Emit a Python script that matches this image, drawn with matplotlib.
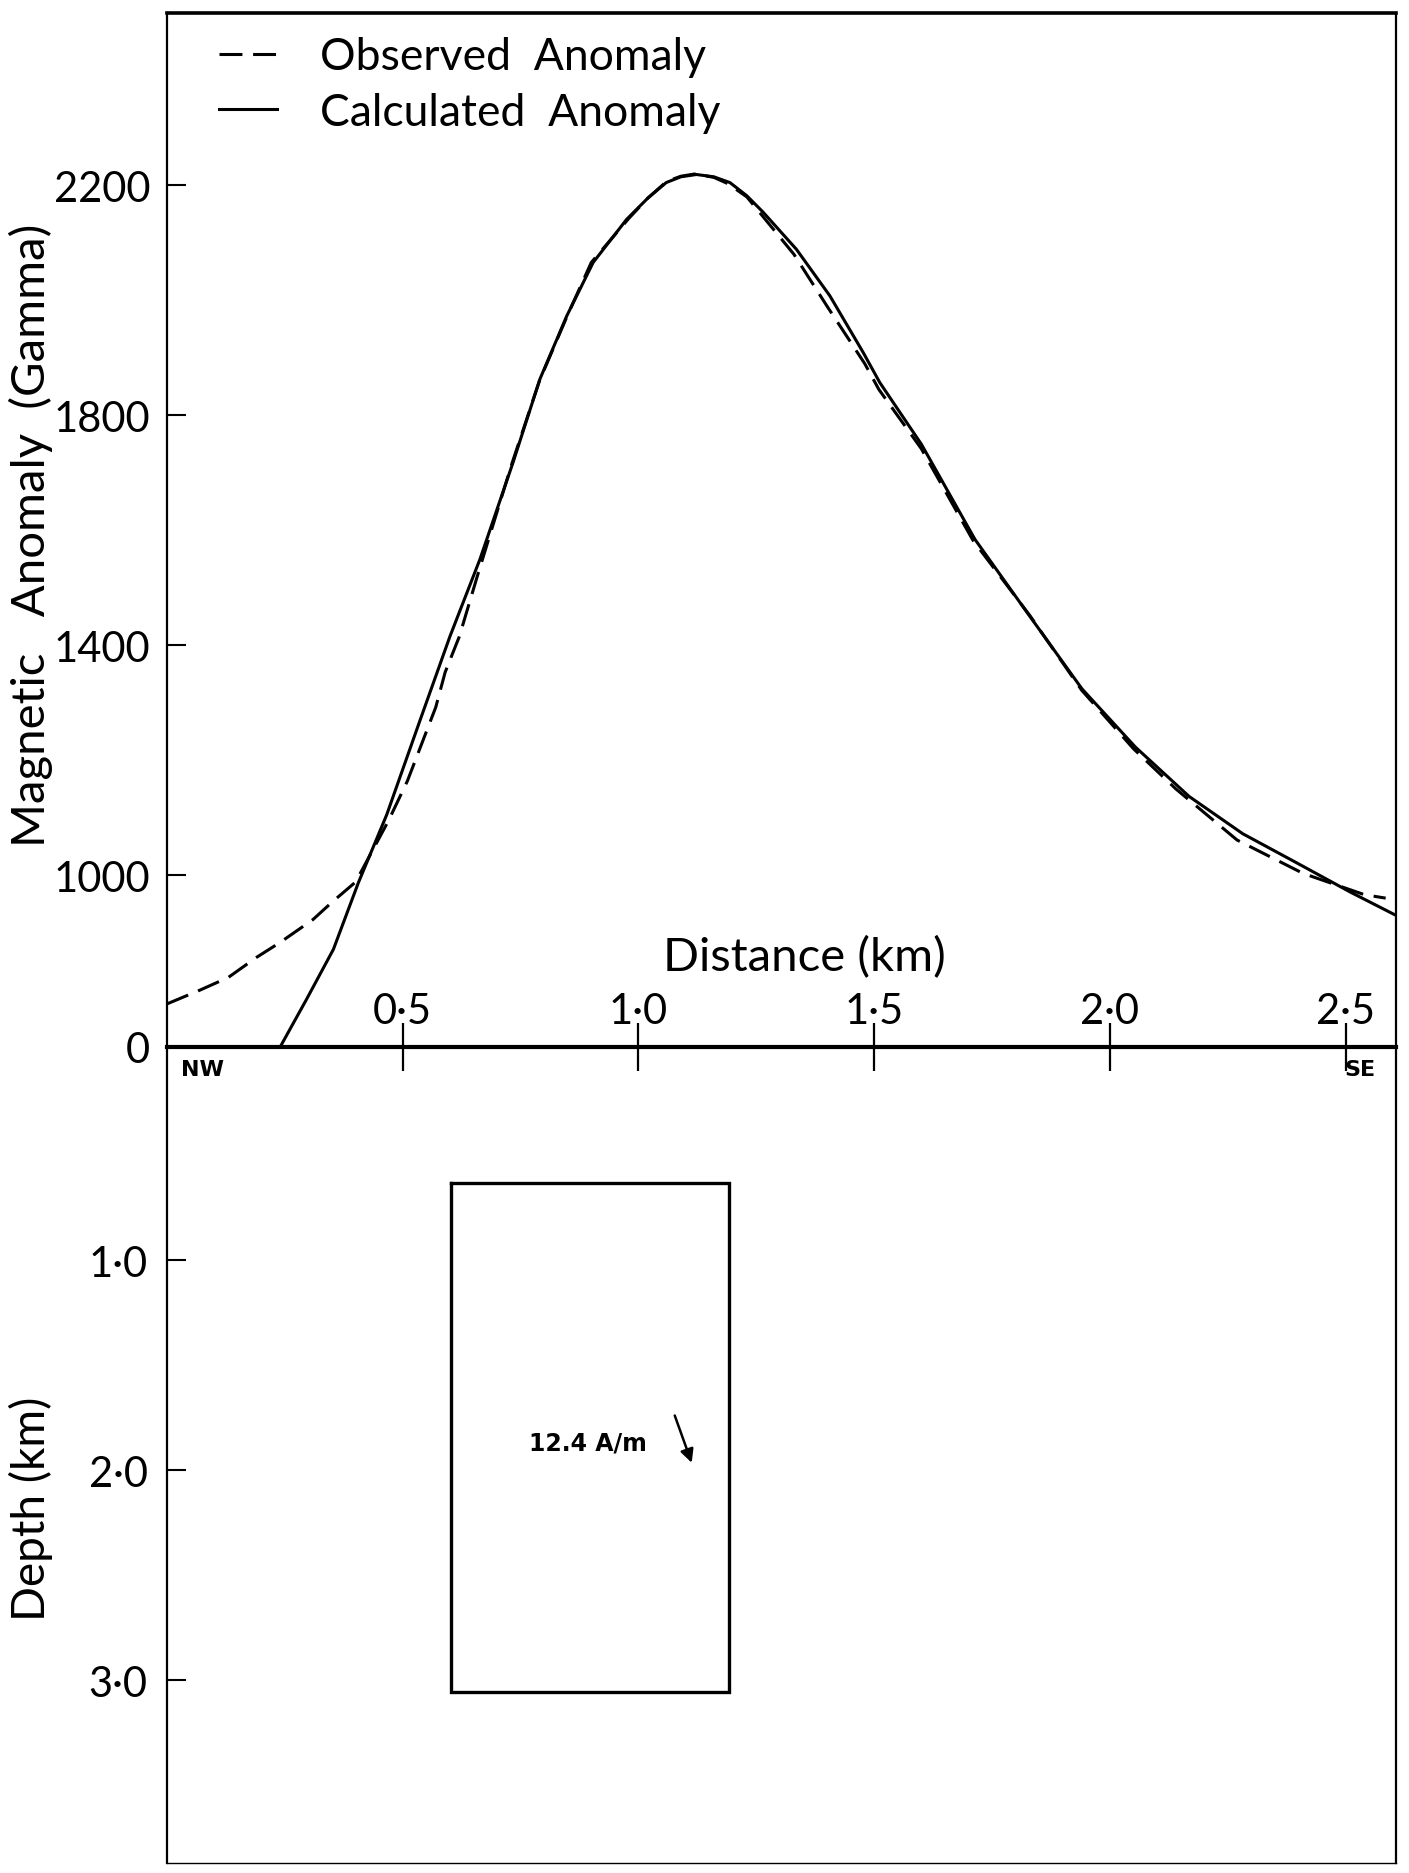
import matplotlib
matplotlib.use("Agg")
import matplotlib.pyplot as plt

plt.rcParams['font.family'] = ['Lato', 'DejaVu Sans']

# Profile distance (km) and magnetic anomaly (gamma)
obs_x = [0.00, 0.07, 0.13, 0.19, 0.24, 0.31, 0.35, 0.40, 0.47, 0.51, 0.54, 0.57,
         0.59, 0.62, 0.66, 0.73, 0.79, 0.85, 0.90, 0.98, 1.02, 1.06, 1.09, 1.12,
         1.16, 1.19, 1.23, 1.26, 1.33, 1.40, 1.48, 1.51, 1.60, 1.71, 1.83, 1.94,
         2.05, 2.14, 2.27, 2.41, 2.54, 2.585]
obs_y = [776, 800, 822, 857, 883, 923, 953, 988, 1095, 1164, 1228, 1292,
         1353, 1415, 1525, 1712, 1860, 1975, 2066, 2143, 2178, 2207, 2216, 2220,
         2214, 2203, 2180, 2150, 2080, 1990, 1890, 1845, 1742, 1582, 1452, 1322,
         1220, 1150, 1061, 1003, 966, 960]

calc_x = [0.240, 0.296, 0.353, 0.406, 0.466, 0.537, 0.600, 0.664, 0.734, 0.791,
          0.848, 0.904, 0.975, 1.020, 1.059, 1.090, 1.123, 1.160, 1.194, 1.230,
          1.265, 1.335, 1.406, 1.477, 1.512, 1.600, 1.714, 1.827, 1.941, 2.054,
          2.168, 2.282, 2.395, 2.509, 2.607]
calc_y = [701, 784, 871, 987, 1105, 1270, 1415, 1550, 1718, 1863,
          1973, 2066, 2141, 2178, 2205, 2215, 2219, 2215, 2205, 2182,
          2153, 2089, 2008, 1909, 1857, 1750, 1584, 1454, 1324, 1223,
          1137, 1072, 1022, 971, 930]

anom_ticks = [701, 1000, 1400, 1800, 2200]
anom_labels = ['0', '1000', '1400', '1800', '2200']
dist_ticks = [0.5, 1.0, 1.5, 2.0, 2.5]
dist_labels = ['0·5', '1·0', '1·5', '2·0', '2·5']
depth_ticks = [1.0, 2.0, 3.0]
depth_labels = ['1·0', '2·0', '3·0']

# Prism model: horizontal extent (km), depth extent (km), magnetisation
body_x = [0.603, 1.193]
body_z = [0.633, 3.057]
body_label = '12.4 A/m'

FS = 30
fig = plt.figure(figsize=(14.09, 18.74), dpi=100)
L, W = 0.11853, 0.87225
ax = fig.add_axes([L, 0.44077, W, 0.55176])
axd = fig.add_axes([L, 0.005336, W, 0.43543])

# ---- anomaly panel ----
ax.plot(obs_x, obs_y, color='black', lw=2.2, dashes=(7.5, 3.5), label='Observed  Anomaly')
ax.plot(calc_x, calc_y, color='black', lw=2.2, label='Calculated  Anomaly')
ax.set_xlim(0, 2.607)
ax.set_ylim(701, 2500)
ax.set_xticks([])
ax.set_yticks(anom_ticks)
ax.set_yticklabels(anom_labels, fontsize=FS)
ax.tick_params(axis='y', direction='in', length=14, width=1.5, pad=12)
ax.yaxis.get_major_ticks()[0].tick1line.set_visible(False)
ax.set_ylabel('Magnetic   Anomaly  (Gamma)', fontsize=34)
ax.yaxis.label.set_va('center')
ax.yaxis.set_label_coords(-0.111, 0.496)
ax.spines['top'].set_linewidth(2.6)
ax.spines['left'].set_linewidth(1.6)
ax.spines['right'].set_linewidth(1.6)
ax.spines['bottom'].set_visible(False)
ax.text(1.351, 858, 'Distance (km)', fontsize=34, ha='center', va='center')
leg = ax.legend(loc='upper left', bbox_to_anchor=(0.0423, 0.9775), frameon=False,
                fontsize=32, handlelength=1.30, handletextpad=0.97, labelspacing=0.33,
                borderpad=0, borderaxespad=0)

# ---- depth section panel ----
axd.set_xlim(0, 2.607)
axd.set_ylim(3.87, -0.014)
axd.xaxis.set_ticks_position('top')
axd.set_xticks(dist_ticks)
axd.set_xticklabels(dist_labels, fontsize=FS)
axd.tick_params(axis='x', direction='inout', length=34, width=1.6, pad=-5)
axd.set_yticks(depth_ticks)
axd.set_yticklabels(depth_labels, fontsize=FS)
axd.tick_params(axis='y', direction='in', length=14, width=1.5, pad=14)
axd.set_ylabel('Depth (km)', fontsize=33)
axd.yaxis.label.set_va('center')
axd.yaxis.set_label_coords(-0.111, 0.435)
axd.spines['top'].set_linewidth(3.0)
axd.spines['left'].set_linewidth(1.6)
axd.spines['right'].set_linewidth(1.6)
axd.spines['bottom'].set_linewidth(1.0)

bx = [body_x[0], body_x[1], body_x[1], body_x[0], body_x[0]]
bz = [body_z[0], body_z[0], body_z[1], body_z[1], body_z[0]]
axd.plot(bx, bz, color='black', lw=2.4, solid_joinstyle='miter')
axd.text(0.767, 1.87, body_label, fontsize=17, fontweight='bold',
         family=['DejaVu Sans'], ha='left', va='center')
axd.annotate('', xy=(1.113, 1.965), xytext=(1.077, 1.74),
             arrowprops=dict(arrowstyle='-|>', color='black', lw=1.8,
                             mutation_scale=20, shrinkA=0, shrinkB=0))
axd.text(0.03, 0.09, 'NW', fontsize=16, fontweight='bold', family=['DejaVu Sans'],
         ha='left', va='center')
axd.text(2.53, 0.09, 'SE', fontsize=16, fontweight='bold', family=['DejaVu Sans'],
         ha='center', va='center')

fig.savefig('out.png', dpi=100, facecolor='white')
